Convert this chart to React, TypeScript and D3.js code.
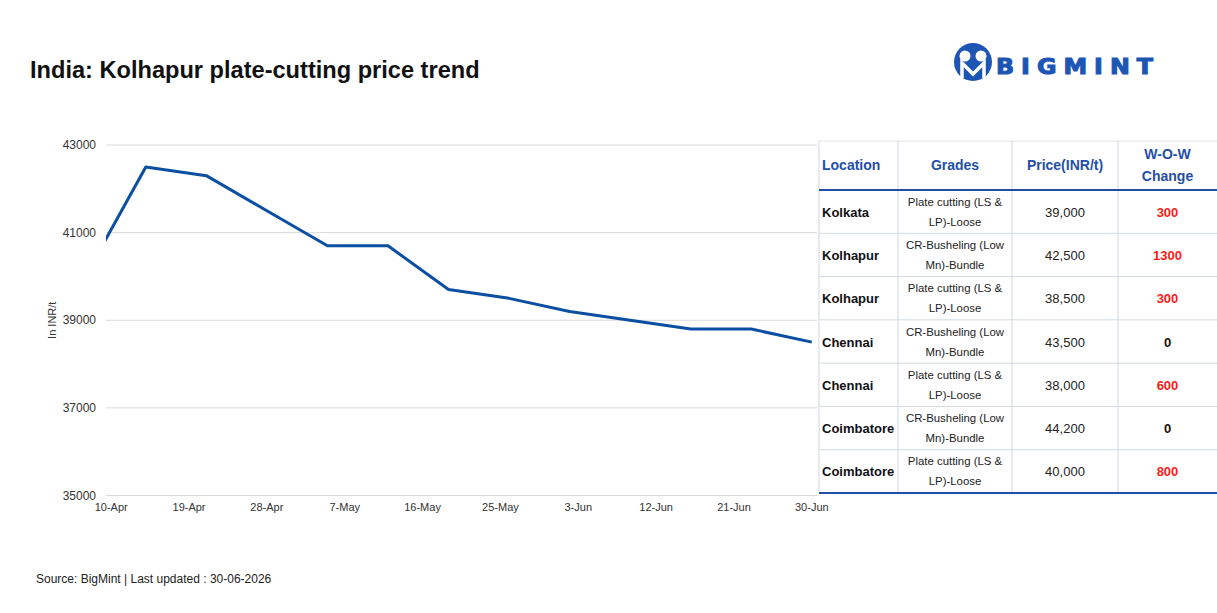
import { useEffect, useRef } from 'react';
import * as d3 from 'd3';

// weekly Kolhapur plate-cutting prices (INR/t)
const weekDates = [
  '2026-04-07', '2026-04-14', '2026-04-21', '2026-04-28', '2026-05-05',
  '2026-05-12', '2026-05-19', '2026-05-26', '2026-06-02', '2026-06-09',
  '2026-06-16', '2026-06-23', '2026-06-30',
];
const prices = [
  40000, 42500, 42300, 41500, 40700, 40700, 39700, 39500, 39200, 39000,
  38800, 38800, 38500,
];
const xTickDates = [
  '2026-04-10', '2026-04-19', '2026-04-28', '2026-05-07', '2026-05-16',
  '2026-05-25', '2026-06-03', '2026-06-12', '2026-06-21', '2026-06-30',
];
const yTicks = [35000, 37000, 39000, 41000, 43000];

// side table
const tableHeaders = ['Location', 'Grades', 'Price(INR/t)', 'W-O-W\nChange'];
const locations = ['Kolkata', 'Kolhapur', 'Kolhapur', 'Chennai', 'Chennai', 'Coimbatore', 'Coimbatore'];
const grades = [
  'Plate cutting (LS &\nLP)-Loose',
  'CR-Busheling (Low\nMn)-Bundle',
  'Plate cutting (LS &\nLP)-Loose',
  'CR-Busheling (Low\nMn)-Bundle',
  'Plate cutting (LS &\nLP)-Loose',
  'CR-Busheling (Low\nMn)-Bundle',
  'Plate cutting (LS &\nLP)-Loose',
];
const tablePrices = ['39,000', '42,500', '38,500', '43,500', '38,000', '44,200', '40,000'];
const wowChanges = [300, 1300, 300, 0, 600, 0, 800];

const FONT = '"Liberation Sans", Arial, sans-serif';
const BLUE = '#0b4fa3';
const HEADER_BLUE = '#1f4fa8';

export default function App() {
  const svgRef = useRef<SVGSVGElement>(null);

  useEffect(() => {
    if (!svgRef.current) return;
    const svg = d3.select(svgRef.current);
    svg.selectAll('*').remove();

    const parse = d3.timeParse('%Y-%m-%d');
    const dates = weekDates.map((d) => parse(d) as Date);
    const ticks = xTickDates.map((d) => parse(d) as Date);

    // plot area
    const left = 106;
    const right = 817;
    const top = 145;
    const bottom = 495.5;

    // a bit of padding either side of the first/last tick
    const pad = 0.6 * 24 * 3600 * 1000;
    const x = d3
      .scaleTime()
      .domain([new Date(+ticks[0] - pad), new Date(+ticks[ticks.length - 1] + pad)])
      .range([left, right]);
    const y = d3.scaleLinear().domain([35000, 43000]).range([bottom, top]);

    // title
    svg
      .append('text')
      .attr('x', 30)
      .attr('y', 78)
      .attr('font-family', FONT)
      .attr('font-weight', 'bold')
      .attr('font-size', 23.6)
      .attr('fill', '#111')
      .text('India: Kolhapur plate-cutting price trend');

    // logo
    const logo = svg.append('g').attr('transform', 'translate(973,62)');
    logo.append('circle').attr('r', 19).attr('fill', '#1d55b5');
    logo.append('circle').attr('cx', -8).attr('cy', -6).attr('r', 5.5).attr('fill', '#fff');
    logo.append('circle').attr('cx', 8).attr('cy', -6).attr('r', 5.5).attr('fill', '#fff');
    logo
      .append('path')
      .attr('d', 'M-11,16 L-11,1 L0,12 L11,1 L11,16')
      .attr('fill', 'none')
      .attr('stroke', '#fff')
      .attr('stroke-width', 3.5)
      .attr('stroke-linejoin', 'miter');
    svg
      .append('text')
      .attr('transform', 'translate(996,74) scale(1.08,1)')
      .attr('font-family', '"DejaVu Sans", sans-serif')
      .attr('font-weight', 'bold')
      .attr('font-size', 22)
      .attr('letter-spacing', 6.5)
      .attr('fill', '#1d55b5')
      .attr('stroke', '#1d55b5')
      .attr('stroke-width', 1.1)
      .text('BIGMINT');

    // grid
    svg
      .append('g')
      .selectAll('line')
      .data(yTicks)
      .enter()
      .append('line')
      .attr('x1', left)
      .attr('x2', right)
      .attr('y1', (d) => y(d))
      .attr('y2', (d) => y(d))
      .attr('stroke', '#d9d9d9')
      .attr('stroke-width', 1);

    // y tick labels
    svg
      .append('g')
      .selectAll('text')
      .data(yTicks)
      .enter()
      .append('text')
      .attr('x', 96)
      .attr('y', (d) => y(d) + 4)
      .attr('text-anchor', 'end')
      .attr('font-family', FONT)
      .attr('font-size', 12)
      .attr('fill', '#333')
      .text((d) => String(d));

    // x tick labels
    const fmt = d3.timeFormat('%-d-%b');
    svg
      .append('g')
      .selectAll('text')
      .data(ticks)
      .enter()
      .append('text')
      .attr('x', (d) => x(d))
      .attr('y', 511)
      .attr('text-anchor', 'middle')
      .attr('font-family', FONT)
      .attr('font-size', 11)
      .attr('fill', '#333')
      .text((d) => fmt(d));

    // y axis title
    svg
      .append('text')
      .attr('transform', `translate(56,${(top + bottom) / 2}) rotate(-90)`)
      .attr('text-anchor', 'middle')
      .attr('font-family', FONT)
      .attr('font-size', 11)
      .attr('fill', '#333')
      .text('In INR/t');

    // line, clipped to plot area
    svg
      .append('clipPath')
      .attr('id', 'plot-clip')
      .append('rect')
      .attr('x', left)
      .attr('y', top - 10)
      .attr('width', right - left)
      .attr('height', bottom - top + 20);

    const line = d3
      .line<number>()
      .x((_, i) => x(dates[i]))
      .y((d) => y(d));

    svg
      .append('path')
      .datum(prices)
      .attr('clip-path', 'url(#plot-clip)')
      .attr('d', line)
      .attr('fill', 'none')
      .attr('stroke', BLUE)
      .attr('stroke-width', 3)
      .attr('stroke-linejoin', 'round');

    // table
    const colX = [819, 898, 1012, 1118, 1217];
    const headTop = 141;
    const headBottom = 190;
    const rowH = (493 - headBottom) / locations.length;
    const tbl = svg.append('g');

    tbl
      .append('rect')
      .attr('x', colX[0])
      .attr('y', headTop)
      .attr('width', colX[4] - colX[0])
      .attr('height', 493 - headTop)
      .attr('fill', '#fff');

    // row separators
    tbl
      .selectAll('.row-sep')
      .data(d3.range(1, locations.length))
      .enter()
      .append('line')
      .attr('x1', colX[0])
      .attr('x2', colX[4])
      .attr('y1', (i) => headBottom + i * rowH)
      .attr('y2', (i) => headBottom + i * rowH)
      .attr('stroke', '#d3d9e4')
      .attr('stroke-width', 1);

    tbl
      .append('line')
      .attr('x1', colX[0])
      .attr('x2', colX[4])
      .attr('y1', headTop)
      .attr('y2', headTop)
      .attr('stroke', '#e1e4ea');

    // column separators
    tbl
      .selectAll('.col-sep')
      .data(colX.slice(0, 4))
      .enter()
      .append('line')
      .attr('x1', (d) => d)
      .attr('x2', (d) => d)
      .attr('y1', headTop)
      .attr('y2', 493)
      .attr('stroke', '#cfd6e3')
      .attr('stroke-width', 1);

    [headBottom, 493].forEach((yy) => {
      tbl
        .append('line')
        .attr('x1', colX[0])
        .attr('x2', colX[4])
        .attr('y1', yy)
        .attr('y2', yy)
        .attr('stroke', HEADER_BLUE)
        .attr('stroke-width', 2);
    });

    const colCenter = (c: number) => (colX[c] + colX[c + 1]) / 2;

    // headers
    tableHeaders.forEach((h, c) => {
      const lines = h.split('\n');
      const t = tbl
        .append('text')
        .attr('x', c === 0 ? colX[0] + 3 : colCenter(c))
        .attr('text-anchor', c === 0 ? 'start' : 'middle')
        .attr('font-family', FONT)
        .attr('font-weight', 'bold')
        .attr('font-size', 14)
        .attr('fill', HEADER_BLUE);
      const baseY = lines.length === 1 ? 170 : 159;
      lines.forEach((l, k) => {
        t.append('tspan')
          .attr('x', c === 0 ? colX[0] + 3 : colCenter(c))
          .attr('y', baseY + k * 22)
          .text(l);
      });
    });

    // body rows
    locations.forEach((loc, r) => {
      const cy = headBottom + r * rowH + rowH / 2;
      tbl
        .append('text')
        .attr('x', colX[0] + 3)
        .attr('y', cy + 5)
        .attr('font-family', FONT)
        .attr('font-weight', 'bold')
        .attr('font-size', 13)
        .attr('fill', '#111')
        .text(loc);

      const g = tbl
        .append('text')
        .attr('text-anchor', 'middle')
        .attr('font-family', FONT)
        .attr('font-size', 11.4)
        .attr('fill', '#222');
      grades[r].split('\n').forEach((l, k) => {
        g.append('tspan')
          .attr('x', colCenter(1))
          .attr('y', cy - 6 + k * 20)
          .text(l);
      });

      tbl
        .append('text')
        .attr('x', colCenter(2))
        .attr('y', cy + 5)
        .attr('text-anchor', 'middle')
        .attr('font-family', FONT)
        .attr('font-size', 13)
        .attr('fill', '#222')
        .text(tablePrices[r]);

      tbl
        .append('text')
        .attr('x', colCenter(3))
        .attr('y', cy + 5)
        .attr('text-anchor', 'middle')
        .attr('font-family', FONT)
        .attr('font-weight', 'bold')
        .attr('font-size', 13)
        .attr('fill', wowChanges[r] > 0 ? '#ff1a1a' : '#111')
        .text(String(wowChanges[r]));
    });

    // footer
    svg
      .append('text')
      .attr('x', 36)
      .attr('y', 583)
      .attr('font-family', FONT)
      .attr('font-size', 12)
      .attr('fill', '#222')
      .text('Source: BigMint | Last updated : 30-06-2026');
  }, []);

  return (
    <svg
      ref={svgRef}
      width={1217}
      height={613}
      viewBox="0 0 1217 613"
      style={{ position: 'absolute', left: 0, top: 0, background: '#fff' }}
    />
  );
}
